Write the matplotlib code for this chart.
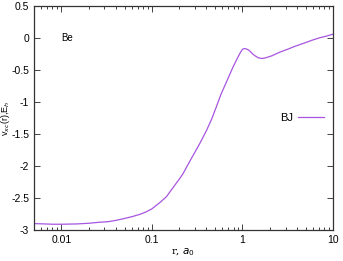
import matplotlib
matplotlib.use('agg')
import matplotlib.pyplot as plt

# BJ exchange-correlation potential for Be
r = [0.005, 0.0065, 0.008, 0.01, 0.015, 0.02, 0.026, 0.033, 0.04, 0.05,
     0.061, 0.074, 0.087, 0.1, 0.123, 0.145, 0.173, 0.2, 0.221, 0.264,
     0.3, 0.338, 0.403, 0.457, 0.517, 0.58, 0.67, 0.79, 0.863, 0.93,
     0.98, 1.01, 1.05, 1.1, 1.16, 1.21, 1.3, 1.37, 1.5, 1.63, 1.8, 2.1,
     2.6, 3.1, 3.8, 4.8, 6.0, 7.2, 8.5, 10.0]
vxc = [-2.90, -2.905, -2.91, -2.91, -2.905, -2.895, -2.88, -2.87, -2.85, -2.82,
       -2.79, -2.755, -2.715, -2.67, -2.57, -2.48, -2.33, -2.21, -2.12, -1.92,
       -1.78, -1.65, -1.44, -1.27, -1.07, -0.88, -0.68, -0.45, -0.34, -0.25,
       -0.195, -0.173, -0.165, -0.17, -0.185, -0.205, -0.25, -0.275, -0.31, -0.32, -0.31, -0.28,
       -0.22, -0.18, -0.13, -0.08, -0.03, 0.005, 0.03, 0.06]

yticks = [0.5, 0, -0.5, -1, -1.5, -2, -2.5, -3]
ytick_labels = ['0.5', '0', '-0.5', '-1', '-1.5', '-2', '-2.5', '-3']
xticks = [0.01, 0.1, 1, 10]
xtick_labels = ['0.01', '0.1', '1', '10']

plt.rcParams['font.family'] = ['Liberation Sans', 'DejaVu Sans']
plt.rcParams['font.size'] = 7.5

fig = plt.figure(figsize=(3.43, 2.61), dpi=100)
ax = fig.add_axes([0.0991, 0.1188, 0.8717, 0.8582])

ax.plot(r, vxc, color='#a855e0', lw=0.9, label='BJ')
ax.set_xscale('log')
ax.set_xlim(0.005, 10)
ax.set_ylim(-3, 0.5)
ax.set_xticks(xticks)
ax.set_xticklabels(xtick_labels)
ax.set_yticks(yticks)
ax.set_yticklabels(ytick_labels)
ax.tick_params(which='both', direction='in', top=True, right=True, colors='#222222',
               labelcolor='black')
ax.tick_params(which='major', length=4, width=0.6)
ax.tick_params(which='minor', length=2, width=0.6)
for s in ax.spines.values():
    s.set_linewidth(0.9)
    s.set_color('#333333')

ax.set_xlabel(r'r, $a_0$', family='serif', labelpad=1)
ax.set_ylabel(r'v$_{xc}$(r),E$_h$', fontsize=6.5)
ax.yaxis.set_label_coords(-0.075, 0.5)
ax.text(0.01, 0.0, 'Be', ha='left', va='center', fontsize=7)

ax.legend(loc='center right', bbox_to_anchor=(1.005, 0.5), frameon=False,
          handlelength=2.4, markerfirst=False, fontsize=8, handletextpad=0.4)

fig.savefig('out.png', dpi=100)
